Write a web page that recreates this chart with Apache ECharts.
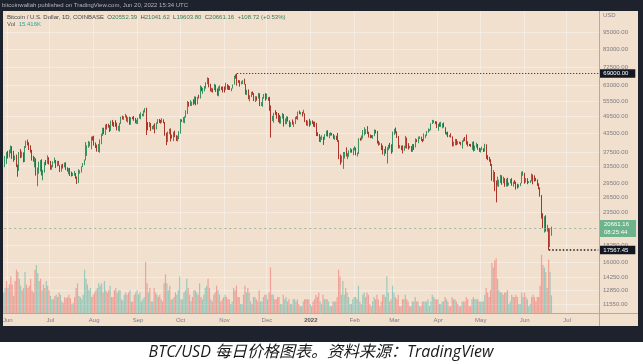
<!DOCTYPE html>
<html><head><meta charset="utf-8">
<script src="https://cdn.jsdelivr.net/npm/echarts@6/dist/echarts.min.js"></script>
<style>html,body{margin:0;padding:0;background:#fff}#c{width:643px;height:364px}</style>
</head><body><div id="c"></div><script>
// ---- data (prices in thousands USD, daily candles from 2021-05-30) ----
const startDate = [2021, 4, 30];
const totalDays = 420;
const firstOpen = 34.65;
const closes = [
35.68,37.30,
36.69,37.57,39.19,36.85,35.52,35.80,33.57,33.38,37.39,36.69,37.31,35.55,39.02,40.53,40.14,38.35,38.09,35.82,35.48,35.60,31.68,32.51,33.68,34.66,31.59,32.28,34.70,34.49,35.91,35.04,
33.57,33.90,34.66,35.29,33.69,34.22,33.86,32.88,33.81,33.51,34.26,33.09,32.73,32.82,31.78,31.42,31.52,31.78,30.84,29.79,32.11,32.31,33.58,34.29,35.38,37.27,39.46,40.00,40.01,42.21,41.46,
39.85,39.15,38.15,39.74,40.87,42.83,44.61,43.82,46.28,45.60,45.55,44.42,47.82,47.10,47.05,45.94,44.69,44.71,46.76,49.34,48.87,49.28,49.53,47.70,48.99,46.85,49.07,48.90,48.81,46.99,47.15,
48.83,49.26,49.94,49.94,51.77,52.66,46.87,46.07,46.40,44.85,45.16,46.06,44.96,47.11,48.14,47.76,47.30,48.31,47.26,43.01,40.70,43.56,44.89,42.84,42.72,43.21,42.23,41.03,41.52,43.79,
48.14,47.63,48.20,49.22,51.51,55.36,53.81,53.97,54.97,54.66,57.47,56.01,57.37,57.35,61.67,60.88,61.53,62.03,64.26,65.99,62.21,60.69,61.39,60.89,63.04,60.36,58.48,60.62,62.27,61.88,61.32,
61.00,63.23,62.94,61.44,61.01,61.53,63.31,67.56,66.97,64.88,64.78,64.16,64.41,65.50,63.62,60.11,60.37,56.94,58.12,59.75,58.68,56.30,57.57,57.17,58.96,53.73,54.72,57.28,57.81,56.95,
57.18,56.48,53.60,49.15,49.40,50.58,50.56,50.47,47.55,47.14,49.39,50.10,46.74,48.38,48.88,47.64,46.20,46.85,46.71,46.88,48.94,48.63,50.82,50.43,50.81,50.64,50.70,47.54,46.46,47.12,46.21,
47.69,47.34,46.46,45.83,43.43,43.10,41.57,41.68,41.86,41.82,42.74,43.95,42.59,43.10,43.18,43.11,42.25,42.37,41.74,40.70,36.48,35.07,36.28,36.68,36.96,36.84,37.16,37.72,38.17,37.92,38.48,
38.74,36.95,37.15,41.57,41.41,42.41,43.84,44.12,44.34,43.57,42.41,42.23,42.06,42.55,44.58,43.96,40.54,40.03,40.12,38.43,37.07,38.29,37.30,38.33,39.22,39.12,37.71,43.19,
44.42,43.92,42.46,39.15,39.40,38.42,38.06,38.74,41.98,39.44,38.73,38.81,37.79,39.67,39.28,41.12,40.92,41.77,42.20,41.26,41.00,42.37,42.89,43.96,44.35,44.50,46.82,47.13,47.43,47.06,45.53,
46.28,45.81,46.41,46.58,45.50,43.17,43.44,42.28,42.78,42.21,39.52,40.08,41.15,39.94,40.55,40.40,39.68,40.80,41.50,41.37,40.48,39.71,39.47,39.45,40.43,38.12,39.24,39.74,38.60,37.63,
38.47,38.53,37.72,39.69,36.55,36.01,35.47,34.06,30.08,31.01,29.08,28.93,29.28,30.08,31.33,29.86,30.42,28.72,30.29,29.19,29.43,30.29,29.10,29.65,29.54,29.20,28.63,29.03,29.47,31.73,31.79,
29.80,30.45,29.70,29.86,29.91,31.37,31.13,30.20,30.11,29.08,28.42,26.57,22.49,22.14,22.58,20.38,20.45,19.00,20.55239,20.66116
];
const highs = [
36.40,37.50,
37.90,38.23,39.48,39.29,37.89,36.49,36.79,34.07,37.53,38.40,37.69,37.44,39.32,41.00,41.33,40.52,39.53,38.19,36.44,36.14,35.74,33.30,34.84,35.27,35.49,32.69,34.73,35.30,36.60,36.07,
35.04,33.94,34.95,35.96,35.29,35.06,35.04,33.91,34.09,34.26,34.60,34.67,33.34,33.10,33.18,32.24,31.95,32.43,31.89,31.05,32.85,32.59,33.61,34.47,35.40,40.55,39.54,40.90,40.64,42.31,42.40,
42.60,40.43,39.76,39.96,41.41,43.33,45.33,45.31,46.45,46.70,46.75,46.23,47.90,48.15,47.38,48.05,47.15,46.03,47.06,49.38,49.76,49.52,50.50,49.87,49.24,49.35,49.17,49.30,49.63,48.91,48.23,
48.95,50.39,51.05,50.55,51.89,52.78,52.92,47.36,47.40,47.04,45.97,46.40,46.87,47.24,48.46,48.50,48.17,48.81,48.37,47.36,43.61,44.00,44.95,45.07,42.97,43.95,44.33,42.76,42.60,44.13,
48.47,48.35,49.23,49.50,51.89,55.75,55.34,56.10,55.49,56.51,57.80,57.68,57.56,58.53,62.93,62.33,61.72,62.61,64.47,67.02,66.64,63.72,61.74,61.49,63.70,63.29,61.44,62.40,62.95,62.32,62.42,
62.43,64.27,63.55,63.00,62.60,61.58,63.35,67.79,68.53,69.00,65.58,65.46,64.99,65.55,66.30,63.62,60.80,60.98,58.36,59.85,60.05,59.30,57.87,57.78,59.40,59.18,55.28,57.43,58.87,59.25,
59.04,57.39,57.60,53.88,49.70,50.89,51.94,51.20,50.80,50.10,49.48,50.80,50.38,48.68,49.47,49.43,47.98,47.33,48.32,47.54,49.33,49.54,51.37,51.80,51.16,51.26,52.07,50.70,48.12,47.88,48.55,
47.85,47.97,47.57,47.50,47.07,43.75,43.14,42.30,42.75,42.25,43.10,44.30,44.44,43.45,43.80,43.48,43.20,42.70,42.60,43.51,41.15,36.84,36.50,37.55,37.55,38.92,37.23,38.00,38.72,38.35,38.75,
39.27,38.86,37.40,41.77,41.93,42.66,44.50,45.49,44.80,45.85,43.95,43.00,42.75,42.85,44.75,44.58,44.20,40.97,40.48,40.15,39.48,38.45,39.25,38.95,39.70,40.30,39.85,44.00,
44.95,45.40,44.10,42.52,39.65,39.45,39.55,39.40,42.55,42.00,40.20,39.35,39.30,39.95,39.88,41.72,41.45,42.30,42.40,42.28,41.55,43.35,43.00,44.20,45.05,44.80,46.92,48.18,48.10,47.70,47.60,
46.70,47.20,47.45,46.88,47.20,45.50,43.90,43.95,42.80,43.40,42.40,40.68,41.55,41.50,40.88,40.70,40.60,41.10,41.75,42.20,42.98,40.80,39.98,39.95,40.60,40.80,39.45,40.35,39.95,38.80,
38.65,39.15,38.65,40.00,39.85,36.65,36.15,35.50,34.25,32.65,32.15,30.10,31.00,30.30,31.45,31.30,31.00,30.65,30.50,30.75,29.60,30.45,30.65,29.82,30.20,29.85,29.35,29.20,29.55,32.20,32.38,
31.95,30.65,30.65,29.95,30.15,31.75,31.55,31.33,30.70,30.35,29.45,28.55,26.90,23.35,22.80,22.99,21.35,20.80,20.80,21.04162
];
const lows = [
33.38,34.22,
35.67,35.98,37.17,35.59,34.80,35.26,33.39,31.00,32.40,35.79,35.95,34.65,34.76,38.76,39.51,38.12,37.37,35.13,34.82,33.34,31.26,28.80,31.70,32.28,31.30,30.15,32.00,33.87,34.25,34.07,
32.71,32.70,33.32,34.40,33.14,33.55,33.80,32.13,32.25,33.03,33.33,32.66,32.24,31.60,31.17,31.05,31.17,31.22,30.50,29.30,29.49,31.72,32.02,33.42,33.88,35.21,36.40,38.80,39.21,38.33,41.04,
39.45,38.70,37.64,37.51,37.35,39.89,42.51,43.11,42.85,44.70,45.35,43.83,44.22,45.96,45.58,45.67,44.40,44.22,43.98,46.64,48.30,48.13,49.05,47.60,47.16,46.34,46.40,48.40,47.80,46.90,46.71,
46.60,48.65,48.38,49.52,49.50,50.99,42.83,44.41,45.52,44.16,44.75,44.74,43.37,44.72,46.73,47.05,46.80,47.10,46.90,42.58,39.60,40.58,43.09,40.76,41.70,40.83,42.12,40.89,40.76,41.45,
43.28,47.42,47.10,46.93,49.05,50.40,53.36,53.60,53.66,54.10,54.43,53.88,54.32,56.82,56.85,60.15,58.96,60.10,61.35,63.54,62.00,60.03,59.68,59.55,60.69,59.83,58.10,57.81,60.20,60.73,59.60,
59.54,60.64,60.95,60.74,60.75,60.13,61.39,63.30,66.32,62.82,64.14,62.31,63.39,63.60,63.38,58.60,58.39,56.52,55.60,57.45,58.50,55.70,55.32,55.90,56.82,53.60,53.63,53.32,56.72,55.88,
56.50,55.85,51.68,42.00,47.76,47.10,50.05,48.61,47.33,46.86,46.75,48.65,45.70,46.56,46.58,47.55,45.50,45.60,46.42,45.56,46.63,48.45,48.06,50.40,50.20,49.45,50.50,47.33,46.10,45.90,45.68,
46.22,46.67,45.70,45.50,42.50,42.45,40.61,40.50,41.25,39.65,41.27,42.45,42.31,41.76,42.60,42.65,41.55,41.25,41.20,40.59,35.50,34.02,34.60,32.93,35.70,36.25,35.50,36.15,37.35,37.35,36.63,
38.00,36.60,36.25,36.98,40.95,41.10,41.65,42.70,43.15,43.20,42.00,41.77,41.89,41.58,42.45,43.35,40.10,39.45,39.65,38.10,36.80,36.40,37.05,34.32,38.05,38.60,37.05,37.45,
42.85,43.35,41.85,38.60,38.60,38.10,37.15,37.88,38.65,38.55,38.25,38.65,37.60,37.60,38.12,38.90,40.55,40.20,41.52,40.92,40.50,40.88,41.80,42.55,43.60,44.10,44.42,46.65,46.95,46.58,45.20,
44.25,45.65,45.55,45.10,45.40,43.10,42.73,42.10,42.15,42.00,39.20,39.25,39.55,39.58,39.77,40.00,39.56,38.55,40.58,40.85,39.75,39.20,39.30,39.05,38.20,37.70,37.88,38.90,38.20,37.58,
37.40,38.05,37.53,37.67,35.60,35.25,34.78,33.70,30.03,29.75,27.70,25.40,28.75,28.65,29.50,29.10,29.45,28.67,28.70,28.75,28.95,29.45,28.90,28.68,29.33,28.05,28.25,28.50,28.80,29.45,31.20,
29.35,29.60,29.25,29.50,29.50,29.88,29.22,29.85,29.95,28.85,28.10,26.55,22.40,20.80,20.10,20.25,20.25,17.56745,17.95,19.6038
];
// volume in thousands of BTC
const volumes = [
18,22,
28,22,25,32,25,15,28,38,36,30,24,20,22,36,25,22,24,30,20,18,38,42,35,28,30,20,25,22,28,24,
20,15,12,12,15,16,14,18,16,10,9,14,13,14,16,13,8,9,14,22,26,15,14,12,16,38,30,25,20,22,14,
16,18,20,22,26,24,26,18,28,20,18,20,24,14,14,20,22,18,20,20,12,11,16,18,16,18,20,10,10,16,18,
20,16,18,10,12,14,45,26,18,22,10,10,22,18,16,14,16,12,10,26,34,26,20,24,12,12,14,18,16,20,
32,12,12,18,20,30,22,16,10,14,20,20,18,16,26,14,12,16,22,24,30,22,12,10,16,18,24,20,16,10,12,
14,16,14,12,12,8,10,22,20,24,14,14,8,8,16,24,18,22,18,10,8,14,14,12,10,20,10,10,14,16,
16,12,18,40,16,16,12,12,14,14,8,8,16,12,14,10,12,8,8,12,12,10,12,8,6,6,10,12,12,12,12,
8,6,10,12,16,14,18,10,8,16,12,12,12,10,6,6,10,10,10,14,38,32,16,28,16,22,18,14,8,8,12,
14,14,12,24,10,8,16,18,14,18,16,8,6,10,14,12,16,12,6,10,16,16,14,32,18,10,12,24,
18,14,12,16,6,6,12,12,16,12,10,6,6,10,10,14,10,10,6,6,10,10,10,10,12,6,10,16,14,12,12,
12,8,8,10,10,14,12,10,6,6,14,12,12,10,8,6,6,10,10,10,14,12,6,6,12,14,12,12,12,10,
10,10,10,16,22,18,14,20,44,40,46,48,30,20,18,18,16,18,18,20,8,10,16,14,14,16,14,8,8,18,14,
18,14,12,6,8,14,16,14,10,14,14,24,51,42,40,36,22,47,36,15.416
];
const priceTicks = [95000,83000,72500,63000,55500,49500,43500,37500,33500,29500,26500,23500,18250,16000,14250,12850,11550];
const monthNames = ['Jan','Feb','Mar','Apr','May','Jun','Jul','Aug','Sep','Oct','Nov','Dec'];
const athValue = 69000, athDate = '2021-11-10';
const lowValue = 17567.45, lowDate = '2022-06-18';
const lastPrice = 20661.16;

// ---- build ----
const cats = [];
const t0 = Date.UTC(startDate[0], startDate[1], startDate[2]);
for (let i = 0; i < totalDays; i++) cats.push(new Date(t0 + i * 864e5).toISOString().slice(0, 10));
const L = v => Math.log(v);
const UP = '#3a9262', DOWN = '#aa3528';
const candle = closes.map((c, i) => {
  const o = (i ? closes[i - 1] : firstOpen) * 1000, cc = c * 1000;
  const h = Math.max(highs[i] * 1000, o, cc), l = Math.min(lows[i] * 1000, o, cc);
  return [L(o), L(cc), L(l), L(h)];
});
const vol = volumes.map((v, i) => ({
  value: v,
  itemStyle: { color: closes[i] >= (i ? closes[i - 1] : firstOpen) ? 'rgba(38,166,154,0.42)' : 'rgba(239,83,80,0.45)' }
}));
const LMIN = 9.2846, LMAX = 11.6268, VMAX = 64;
const tickLn = priceTicks.map(L);
const FONT = '"Liberation Sans", Arial, sans-serif';
const isFirst = (i, v) => v.slice(8) === '01';
const lastCat = cats[cats.length - 1];
const warn = (closes.length !== highs.length || closes.length !== lows.length || closes.length !== volumes.length)
  ? `len ${closes.length}/${highs.length}/${lows.length}/${volumes.length}` : '';

const chart = echarts.init(document.getElementById('c'), null, { renderer: 'canvas' });
chart.setOption({
  animation: false,
  backgroundColor: '#ffffff',
  grid: [
    { left: 3, right: 44, top: 11, bottom: 51 },
    { left: 3, right: 44, top: 240, bottom: 51 }
  ],
  xAxis: [
    { type: 'category', data: cats, gridIndex: 0, boundaryGap: true,
      axisLine: { show: false }, axisTick: { show: false },
      axisLabel: { interval: isFirst, fontSize: 6, color: '#7b7d83', margin: 4, fontFamily: FONT,
        formatter: v => { const m = +v.slice(5, 7) - 1; return m === 0 ? '{b|' + v.slice(0, 4) + '}' : monthNames[m]; },
        rich: { b: { fontWeight: 'bold', color: '#555', fontSize: 6, fontFamily: FONT } } },
      splitLine: { show: true, interval: isFirst, lineStyle: { color: 'rgba(255,255,255,0.35)', width: 1 } } },
    { type: 'category', data: cats, gridIndex: 1, show: false, boundaryGap: true }
  ],
  yAxis: [
    { type: 'value', position: 'right', min: LMIN, max: LMAX, gridIndex: 0,
      axisLine: { show: false }, axisTick: { show: false, customValues: tickLn },
      axisLabel: { customValues: tickLn, fontSize: 6, color: '#7b7d83', margin: 4, fontFamily: FONT,
        formatter: v => Math.round(Math.exp(v)).toFixed(2) },
      splitLine: { show: true, lineStyle: { color: 'rgba(255,255,255,0.35)', width: 1 } } },
    { type: 'value', gridIndex: 1, min: 0, max: VMAX, show: false, splitLine: { show: false } }
  ],
  series: [
    { type: 'bar', xAxisIndex: 1, yAxisIndex: 1, data: vol, barWidth: 1.2, z: 1, silent: true },
    { type: 'candlestick', xAxisIndex: 0, yAxisIndex: 0, data: candle, barWidth: 1.3, z: 3,
      itemStyle: { color: UP, color0: DOWN, borderColor: UP, borderColor0: DOWN, borderWidth: 1 },
      markLine: {
        symbol: ['none', 'none'], silent: true, animation: false,
        data: [
          { yAxis: L(lastPrice), lineStyle: { color: '#8aa595', type: [2, 3], width: 0.8 },
            label: { show: true, position: 'end', distance: 1, formatter: '20661.16\n08:25:44',
              backgroundColor: '#6db38b', color: '#fff', fontSize: 6, lineHeight: 7.5, padding: [1, 7, 1, 4], fontFamily: FONT } },
          { yAxis: L(lastPrice), lineStyle: { opacity: 0 },
            label: { show: true, position: 'insideEnd', distance: 2, formatter: 'BTCUSD',
              backgroundColor: '#6db38b', color: '#fff', fontSize: 6, padding: [1.5, 3, 1, 3], fontFamily: FONT } },
          [ { coord: [athDate, L(athValue)], lineStyle: { color: '#1a1a1a', type: [1, 2], width: 1 },
              label: { show: true, position: 'end', distance: 1, formatter: '69000.00',
                backgroundColor: '#131722', color: '#fff', fontSize: 6, padding: [1.5, 7, 1, 4], fontFamily: FONT } },
            { coord: [lastCat, L(athValue)] } ],
          [ { coord: [lowDate, L(lowValue)], lineStyle: { color: '#1a1a1a', type: [1.5, 2], width: 1.5 },
              label: { show: true, position: 'end', distance: 1, formatter: '17567.45',
                backgroundColor: '#131722', color: '#fff', fontSize: 6, padding: [1.5, 7, 1, 4], fontFamily: FONT } },
            { coord: [lastCat, L(lowValue)] } ]
        ]
      } }
  ],
  graphic: [
    { type: 'rect', z: -10, silent: true, shape: { x: 0, y: 0, width: 643, height: 342 }, style: { fill: '#1e222d' } },
    { type: 'rect', z: -9, silent: true, shape: { x: 3, y: 11, width: 635, height: 315 }, style: { fill: '#f2e0cf' } },
    { type: 'line', z: 50, silent: true, shape: { x1: 599.5, y1: 11, x2: 599.5, y2: 326 }, style: { stroke: '#b7aa9b', lineWidth: 1 } },
    { type: 'line', z: 50, silent: true, shape: { x1: 3, y1: 313.5, x2: 638, y2: 313.5 }, style: { stroke: '#b7aa9b', lineWidth: 1 } },
    { type: 'rect', z: 100, silent: true, shape: { x: 0, y: 11, width: 3, height: 315 }, style: { fill: '#1e222d' } },
    { type: 'rect', z: 100, silent: true, shape: { x: 638, y: 11, width: 5, height: 315 }, style: { fill: '#1e222d' } },
    { type: 'text', z: 101, silent: true, x: 2, y: 5,
      style: { text: 'bitcoinwallah published on TradingView.com, Jun 20, 2022 15:34 UTC', fill: '#b2b5be', fontSize: 6, fontFamily: FONT, verticalAlign: 'middle', textVerticalAlign: 'middle' } },
    { type: 'text', z: 101, silent: true, x: 7, y: 17,
      style: { text: '{t|Bitcoin / U.S. Dollar, 1D, COINBASE}  {k|O}{v|20552.39}  {k|H}{v|21041.62}  {k|L}{v|19603.80}  {k|C}{v|20661.16}  {v|+108.72 (+0.53%)}',
        fontSize: 6, fontFamily: FONT, fill: '#444', verticalAlign: 'middle', textVerticalAlign: 'middle',
        rich: { t: { fill: '#444', color: '#444', fontSize: 6, fontFamily: FONT },
                k: { fill: '#444', color: '#444', fontSize: 6, fontFamily: FONT },
                v: { fill: '#3a7a58', color: '#3a7a58', fontSize: 6, fontFamily: FONT } } } },
    { type: 'text', z: 101, silent: true, x: 7, y: 24,
      style: { text: '{k|Vol}  {g|15.416K}', fontSize: 6, fontFamily: FONT, verticalAlign: 'middle', textVerticalAlign: 'middle',
        rich: { k: { fill: '#555', color: '#555', fontSize: 6, fontFamily: FONT },
                g: { fill: '#26a69a', color: '#26a69a', fontSize: 6, fontFamily: FONT } } } },
    { type: 'text', z: 101, silent: true, x: 603, y: 15,
      style: { text: 'USD', fill: '#7b7d83', fontSize: 6, fontFamily: FONT, verticalAlign: 'middle', textVerticalAlign: 'middle' } },
    { type: 'text', z: 101, silent: true, x: 321, y: 352,
      style: { text: 'BTC/USD 每日价格图表。资料来源：TradingView', fill: '#1a1a1a',
        font: 'italic 16px "Open Sans", "Noto Sans CJK SC", sans-serif',
        align: 'center', textAlign: 'center', verticalAlign: 'middle', textVerticalAlign: 'middle' } },
    { type: 'text', z: 200, x: 250, y: 150, style: { text: warn, fill: 'red', fontSize: 14 } }
  ]
});
</script></body></html>
